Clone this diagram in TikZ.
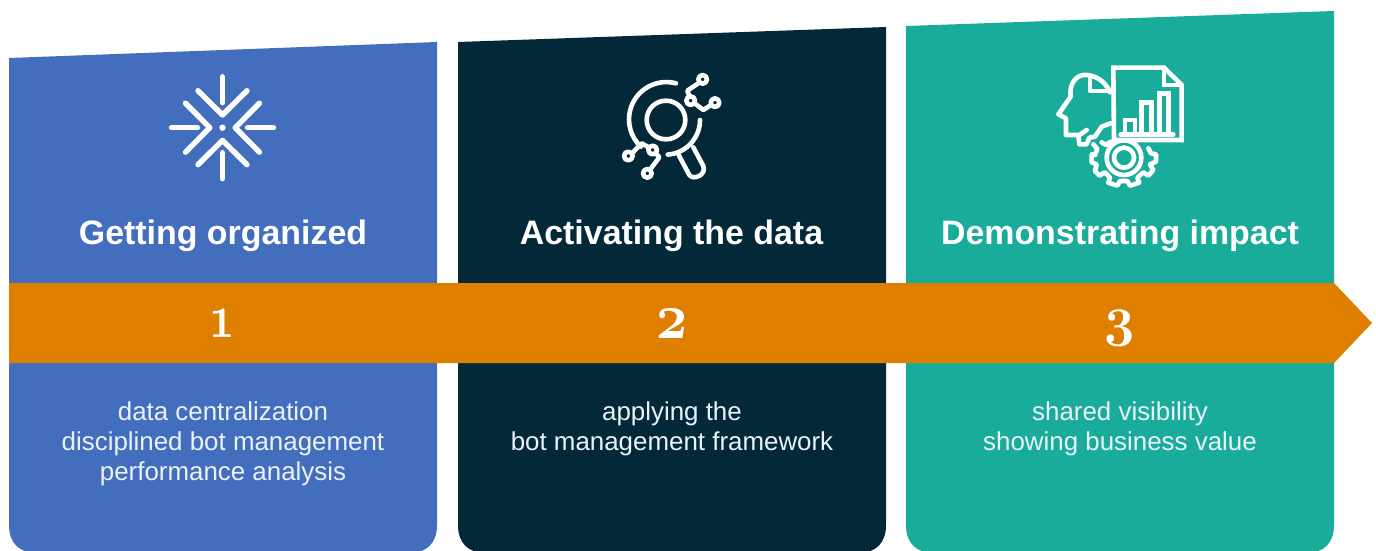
\documentclass[tikz,border=0pt]{standalone}
\usepackage{fontspec}
\setmainfont{Liberation Sans}
\newfontfamily\numfont[Numbers=OldStyle]{Latin Modern Roman}
\definecolor{pblue}{HTML}{436EBD}
\definecolor{pdark}{HTML}{032938}
\definecolor{pteal}{HTML}{1AAC9B}
\definecolor{porange}{HTML}{DF7F00}
\definecolor{ptext}{HTML}{EAF2F8}
\tikzset{
  arrowband/.style={fill=porange},
  titletext/.style={text=white,font=\fontsize{33.9}{36}\selectfont\bfseries,inner sep=0pt,anchor=center},
  bodytext/.style={text=ptext,font=\fontsize{25.9}{30}\selectfont,align=center,inner sep=0pt,anchor=north},
  numtext/.style={text=white,font=\fontsize{62}{62}\numfont\bfseries\selectfont,inner sep=0pt,anchor=center},
  icon/.style={draw=white,line cap=round,line join=round,fill=none},
}
\begin{document}
\begin{tikzpicture}[x=1pt,y=-1pt]
\useasboundingbox (0,0) rectangle (1376,550);
\fill[white] (0,0) rectangle (1376,550);
% panels
\begin{scope}
\clip (0,0) rectangle (1376,550);
\fill[pblue] (9,58) -- (437,42) -- (437,525) .. controls (437,543) and (427,553) .. (409,553) -- (37,553) .. controls (19,553) and (9,543) .. (9,525) -- cycle;
\fill[pdark] (458,42) -- (886,27) -- (886,525) .. controls (886,543) and (876,553) .. (858,553) -- (486,553) .. controls (468,553) and (458,543) .. (458,525) -- cycle;
\fill[pteal] (906,26) -- (1334,11) -- (1334,525) .. controls (1334,543) and (1324,553) .. (1306,553) -- (934,553) .. controls (916,553) and (906,543) .. (906,525) -- cycle;
\end{scope}
% arrow band
\fill[arrowband] (9,283) -- (1334,283) -- (1372,323) -- (1334,363) -- (9,363) -- cycle;
% titles
\node[titletext] (t1) at (223,236) {Getting organized};
\node[titletext] (t2) at (671.5,236) {Activating the data};
\node[titletext] (t3) at (1120,236) {Demonstrating impact};
% numbers
\node[numtext] (n1) at (222.5,323) {\scalebox{.72}[1]{1}};
\node[numtext] (n2) at (671.5,323.5) {\scalebox{.9}[1.05]{2}};
\node[numtext] (n3) at (1120,328) {\scalebox{.87}[.9]{3}};
% body
\node[bodytext] (b1) at (223,402) {data centralization\\disciplined bot management\\performance analysis};
\node[bodytext] (b2) at (672,402) {applying the\\bot management framework};
\node[bodytext] (b3) at (1120,402) {shared visibility\\showing business value};
% icon 1
\begin{scope}[shift={(222.5,127.7)},icon,line width=5.4pt]
\foreach \r in {0,90,180,270}{
  \begin{scope}[rotate=\r]
  \draw (0,-51) -- (0,-25);
  \draw (-24.5,-37) -- (0,-12.7) -- (24.5,-37);
  \end{scope}
}
\fill[white,draw=none] (0,0) circle (3.2);
\end{scope}
% icon 2 (zoom coordinates, scale 1/3)
\begin{scope}[shift={(600,60)},x=.3333pt,y=-.3333pt,icon,line width=4.6pt]
\draw (198,180) circle (58);
\draw (228,70) arc[start angle=-75,end angle=-227,radius=112];
\draw (300,180) arc[start angle=0,end angle=86,radius=104];
\draw (235,283) -- (268,345) .. controls (280,362) and (320,345) .. (310,318) -- (280,262);
\draw (308,58) circle (13);
\draw (272,122) circle (13);
\draw (345,128) circle (13);
\draw (298,68) -- (262,92) -- (268,108);
\draw (284,130) -- (310,150) -- (333,135);
\draw (85,288) circle (13);
\draw (158,270) circle (13);
\draw (142,340) circle (13);
\draw (96,280) -- (125,250) -- (146,262);
\draw (168,280) -- (178,292) -- (150,329);
\end{scope}
% icon 3
\begin{scope}[shift={(1040,55)},x=.3333pt,y=-.3333pt,icon,line width=4.6pt]
% gear
\draw (252,308) circle (30);
\draw (252,308) circle (52);
\draw (165,300) -- (155,298) -- (155,322) -- (170,328) -- (165,348) -- (178,362) -- (195,352) -- (210,368) -- (205,383) -- (232,392) -- (240,378) -- (262,378) -- (270,392) -- (298,383) -- (292,368) -- (310,352) -- (325,362) -- (340,345) -- (330,328) -- (348,320) -- (348,298) -- (333,295) -- (325,280);
\draw (165,300) -- (172,282) -- (160,268);
\draw (185,262) -- (198,270) -- (212,260);
% head
\draw (210,112) .. controls (195,75) and (160,58) .. (130,60) .. controls (100,65) and (88,95) .. (92,125) -- (55,178) -- (78,190) -- (78,240) -- (115,240) -- (118,268) -- (140,268) -- (148,248) -- (165,245) -- (185,215) -- (212,205);
\draw (150,62) -- (150,108) -- (212,108);
\draw (140,225) -- (118,240);
% document
\draw[line join=miter] (220,38) -- (372,38) -- (425,90) -- (425,255) -- (222,255) -- cycle;
\draw[line join=miter] (372,38) -- (372,90) -- (425,90);
\draw (242,238) -- (400,238);
\draw[line join=miter] (255,235) -- (255,195) -- (285,195) -- (285,235);
\draw[line join=miter] (305,235) -- (305,142) -- (335,142) -- (335,235);
\draw[line join=miter] (358,235) -- (358,115) -- (386,115) -- (386,235);
\end{scope}
\end{tikzpicture}
\end{document}
